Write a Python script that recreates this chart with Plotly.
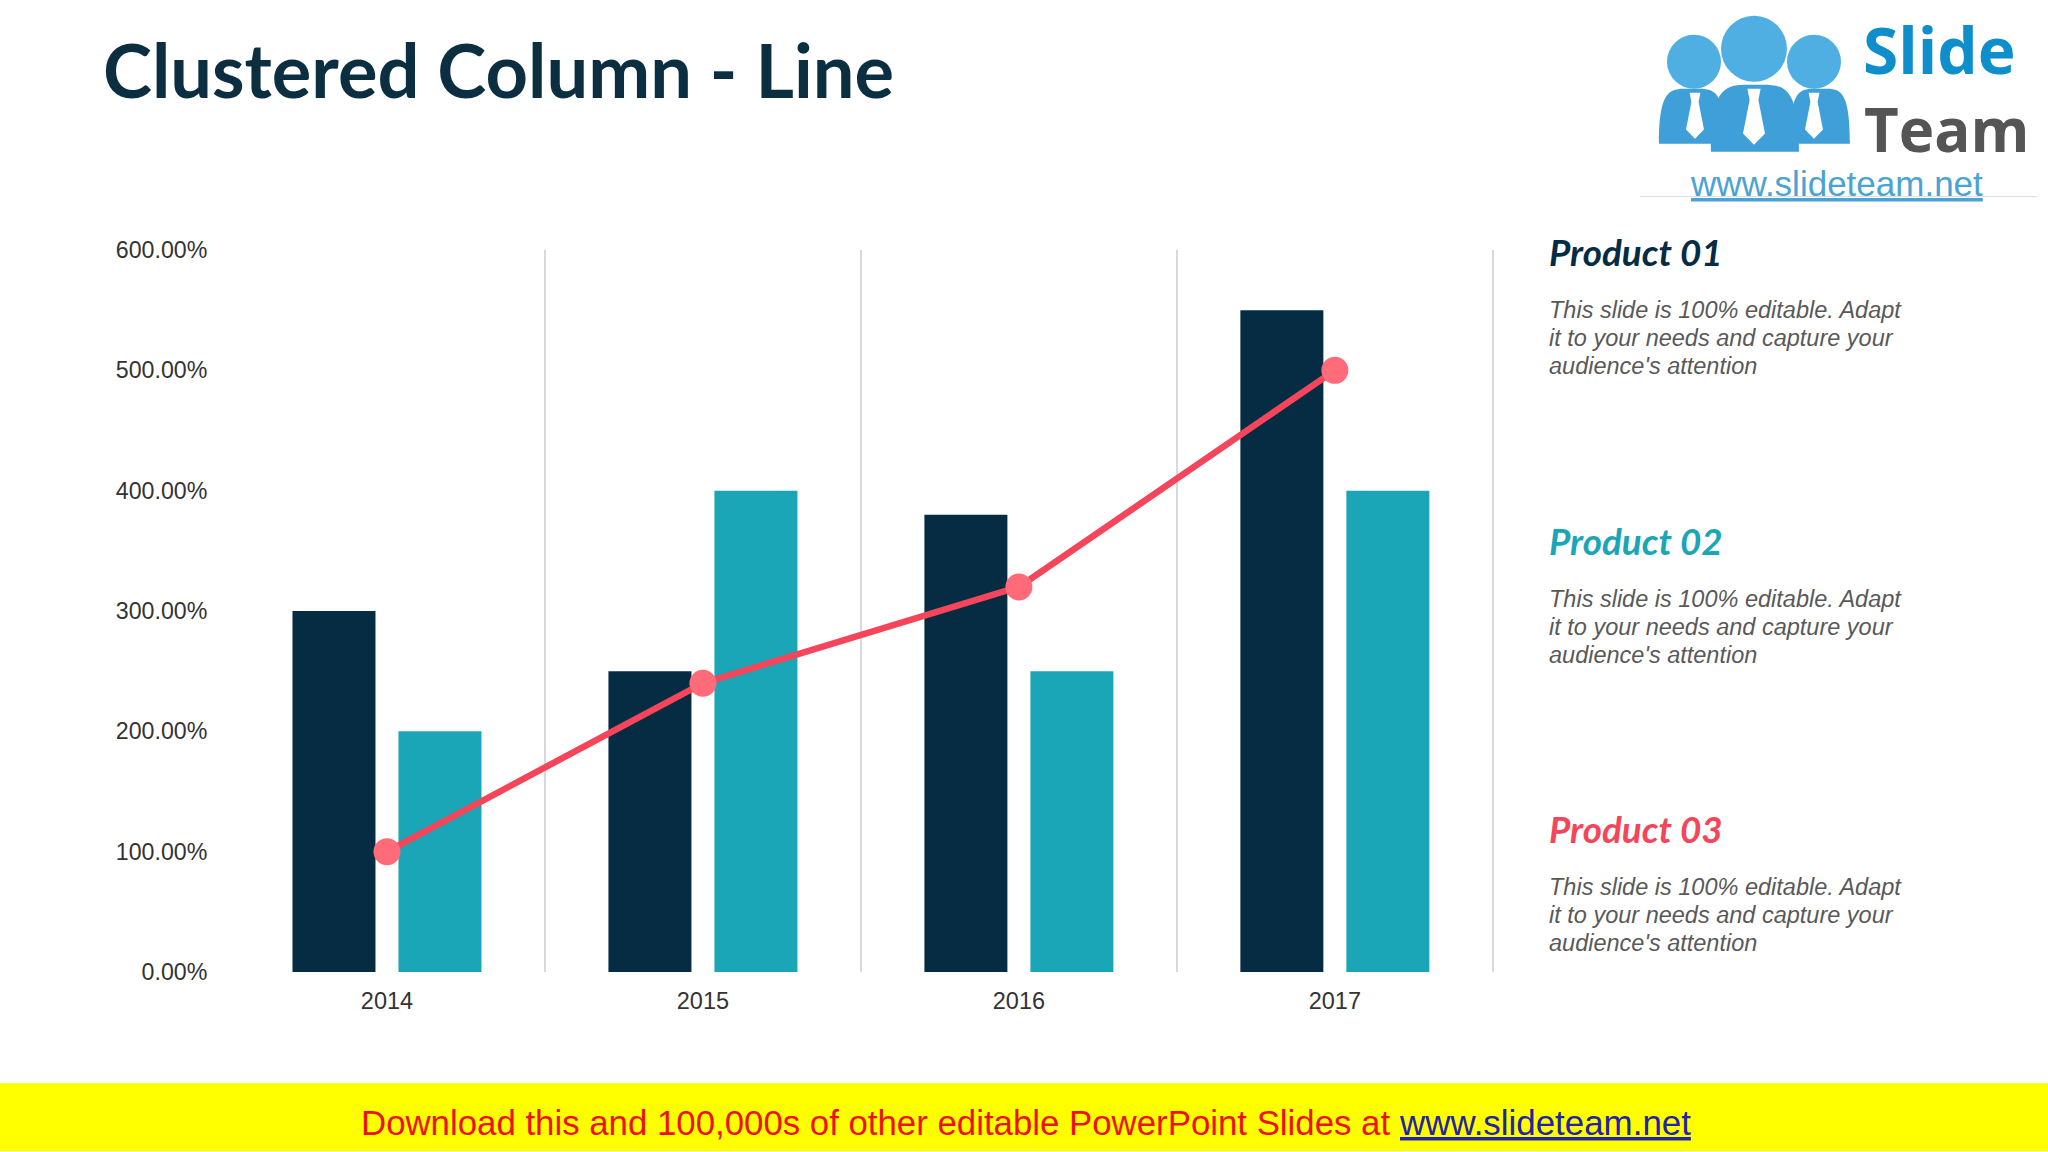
"""Clustered column and line slide rebuilt with plotly."""
import plotly.graph_objects as go

years = ['2014', '2015', '2016', '2017']
navy_vals = [300, 250, 380, 550]
teal_vals = [200, 400, 250, 400]
line_vals = [100, 240, 320, 500]
y_ticks = [0, 100, 200, 300, 400, 500, 600]
y_tick_labels = ['0.00%', '100.00%', '200.00%', '300.00%', '400.00%', '500.00%', '600.00%']

title_text = 'Clustered Column - Line'
product_names = ['Product 01', 'Product 02', 'Product 03']
product_colors = ['#052C42', '#1AA6B7', '#F4455A']
blurb_lines = ['This slide is 100% editable. Adapt',
               'it to your needs and capture your',
               "audience's attention"]

W, H = 2048, 1152
PLOT_L, PLOT_R, PLOT_T, PLOT_B = 229, 1496, 249.5, 972.5
NAVY = '#052C42'
TEAL = '#1AA6B7'
RED = '#F4455A'
PINK = '#FF6B78'
LOGO_BLUE = '#4FAEE2'
LOGO_BLUE_DARK = '#3F9FD8'


# paper coords only span the plot area, so convert from slide pixels
def px(x):
    return (x - PLOT_L) / (PLOT_R - PLOT_L)


def py(y):
    return (PLOT_B - y) / (PLOT_B - PLOT_T)


def label(x, y, text, size, color, family='Liberation Sans', anchor='left', **font_kw):
    return dict(xref='paper', yref='paper', x=px(x), y=py(y), text=text, showarrow=False,
                xanchor=anchor, yanchor='middle', borderpad=0,
                font=dict(family=family, size=size, color=color, **font_kw))


def circle(cx, cy, r, color):
    return dict(type='circle', xref='paper', yref='paper', layer='above',
                x0=px(cx - r), x1=px(cx + r), y0=py(cy + r), y1=py(cy - r),
                fillcolor=color, line_width=0)


def path(points, color):
    d = 'M' + ' L'.join(f'{px(x):.5f},{py(y):.5f}' for x, y in points) + ' Z'
    return dict(type='path', xref='paper', yref='paper', layer='above', path=d,
                fillcolor=color, line_width=0)


def body(x0, x1, top, bottom, color):
    # shoulders as a bezier dome
    w = x1 - x0
    d = (f'M{px(x0):.5f},{py(bottom):.5f} '
         f'C{px(x0):.5f},{py(top - 4):.5f} {px(x0 + w * 0.2):.5f},{py(top):.5f} {px(x0 + w * 0.5):.5f},{py(top):.5f} '
         f'C{px(x1 - w * 0.2):.5f},{py(top):.5f} {px(x1):.5f},{py(top - 4):.5f} {px(x1):.5f},{py(bottom):.5f} Z')
    return dict(type='path', xref='paper', yref='paper', layer='above', path=d,
                fillcolor=color, line_width=0)


def tie(cx, top, bottom, half, color='white'):
    h = bottom - top
    return path([(cx - half * 0.6, top), (cx + half * 0.6, top), (cx + half * 0.4, top + h * 0.2),
                 (cx + half, top + h * 0.8), (cx, bottom), (cx - half, top + h * 0.8),
                 (cx - half * 0.4, top + h * 0.2)], color)


fig = go.Figure()
fig.add_bar(x=years, y=navy_vals, name='Product 01', marker=dict(color=NAVY, line_width=0))
fig.add_bar(x=years, y=teal_vals, name='Product 02', marker=dict(color=TEAL, line_width=0))
fig.add_scatter(x=years, y=line_vals, name='Product 03', mode='lines+markers',
                line=dict(color=RED, width=6.5), marker=dict(color=PINK, size=27))

annotations = [label(102, 69, f'<b>{title_text}</b>', 74, '#0B2E40', family='Lato')]

# side notes
head_y = [252, 541, 829]
for name, col, hy in zip(product_names, product_colors, head_y):
    annotations.append(label(1548, hy, f'<b><i>{name}</i></b>', 36.8, col, family='Lato'))
    for i, line in enumerate(blurb_lines):
        annotations.append(label(1548, hy + 58 + i * 28, f'<i>{line}</i>', 23.5, '#595959'))

# logo text
annotations.append(label(1862, 49, '<b>Slide</b>', 64, '#0E8FCC', family='Open Sans'))
annotations.append(label(1863, 128, '<b>Team</b>', 60, '#555555', family='Open Sans'))
annotations.append(label(1836, 183, 'www.slideteam.net', 35, '#4BA3D3', anchor='center', lineposition='under'))

# download banner
annotations.append(label(1391, 1123, 'Download this and 100,000s of other editable PowerPoint Slides at',
                         34.8, '#EE1111', anchor='right'))
annotations.append(label(1398, 1123, 'www.slideteam.net', 34.9, '#2222AA', lineposition='under'))

shapes = [
    dict(type='rect', xref='paper', yref='paper', layer='below',
         x0=px(0), x1=px(W), y0=py(H), y1=py(1084), fillcolor='#FFFF00', line_width=0),
    dict(type='line', xref='paper', yref='paper', layer='below',
         x0=px(1640), x1=px(2037), y0=py(196), y1=py(196), line=dict(color='#DDDDDD', width=1)),
    circle(1694, 61, 27, LOGO_BLUE),
    circle(1814, 61, 27, LOGO_BLUE),
    body(1659, 1725, 88, 143, LOGO_BLUE_DARK),
    body(1790, 1850, 88, 143, LOGO_BLUE_DARK),
    circle(1754, 48, 33, LOGO_BLUE),
    body(1711, 1799, 84, 151, LOGO_BLUE_DARK),
    tie(1695, 92, 138, 9),
    tie(1754, 88, 144, 11),
    tie(1814, 92, 138, 9),
]

fig.update_layout(
    width=W, height=H,
    margin=dict(l=PLOT_L, r=W - PLOT_R, t=PLOT_T, b=H - PLOT_B, pad=0),
    paper_bgcolor='white', plot_bgcolor='white',
    barmode='group', bargap=0.329, bargroupgap=0.217,
    showlegend=False,
    font=dict(family='Liberation Sans', size=23, color='#333333'),
    annotations=annotations,
    shapes=shapes,
)
# range runs a hair past the last boundary so its divider is kept
fig.update_xaxes(type='category', range=[-0.5, 3.51], tickson='boundaries', showgrid=True,
                 gridcolor='#D9D9D9', gridwidth=1.5, zeroline=False, showline=False,
                 ticks='', ticklabelstandoff=12,
                 tickfont=dict(size=23.5, color='#333333'))
fig.update_yaxes(range=[0, 600], tickvals=y_ticks, ticktext=y_tick_labels, showgrid=False,
                 zeroline=False, showline=False, ticks='outside', ticklen=16, tickcolor='rgba(0,0,0,0)',
                 tickfont=dict(size=23.2, color='#333333'))

fig.write_html("out.html", config=dict(displayModeBar=False),
               post_script="document.body.style.margin='0';")
